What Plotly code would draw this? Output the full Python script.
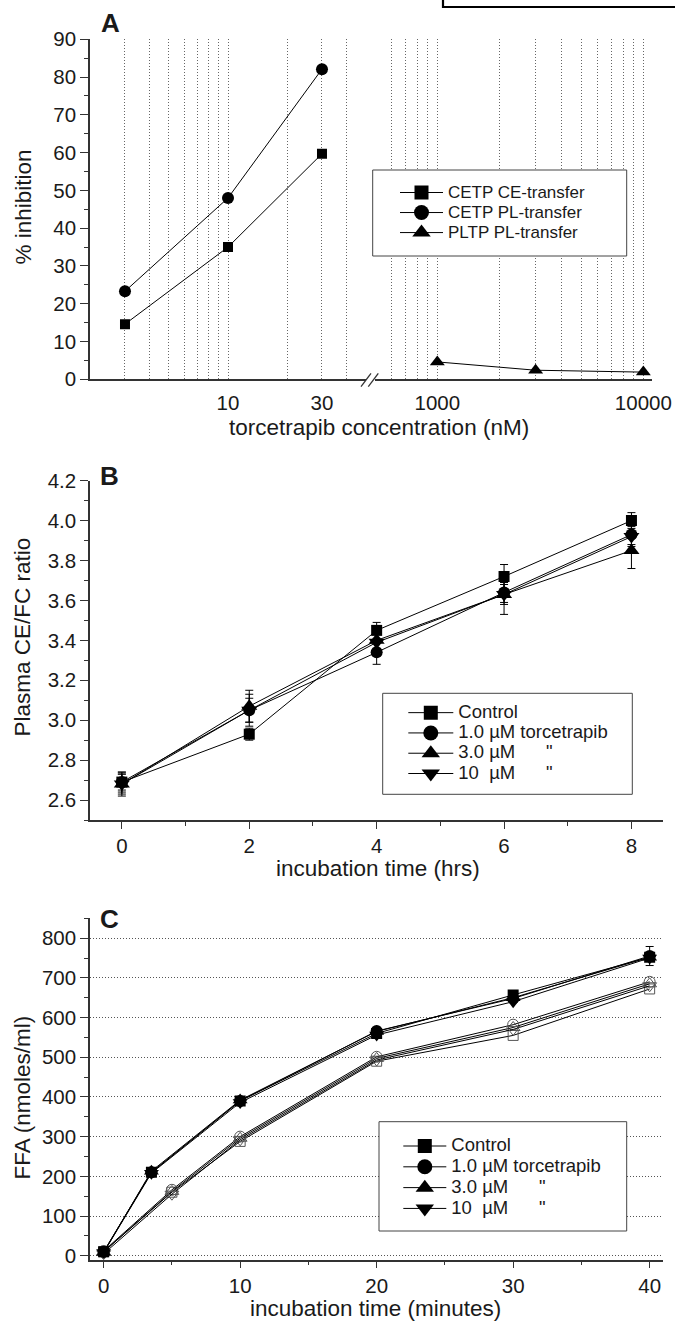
import plotly.graph_objects as go

W, H = 675, 1322


def px(x):
    return x / W


def py(y):
    return 1 - y / H


TXT = '#1a1a1a'
AX = '#333333'
GRID = '#555555'
FONT = 'Liberation Sans, Arial, Helvetica, sans-serif'

# ---- panel A: % inhibition vs torcetrapib concentration (nM)
conc_cetp = [3, 10, 30]
cetp_ce = [14.6, 35.0, 59.7]
cetp_pl = [23.3, 48.0, 82.1]
conc_pltp = [1000, 3000, 10000]
pltp_pl = [4.6, 2.4, 1.9]
a_names = ['CETP CE-transfer', 'CETP PL-transfer', 'PLTP PL-transfer']
a_grid_left = [3, 4, 5, 6, 7, 8, 9, 10, 20, 30, 40]
a_text_left = ['', '', '', '', '', '', '', '10', '', '30', '']
a_grid_right = [600, 700, 800, 900, 1000, 2000, 3000, 4000, 5000, 6000, 7000, 8000, 9000, 10000]
a_text_right = ['', '', '', '', '1000', '', '', '', '', '', '', '', '', '10000']
a_yticks = [0, 10, 20, 30, 40, 50, 60, 70, 80, 90]

# ---- panel B: plasma CE/FC ratio vs incubation time (hrs)
b_time = [0, 2, 4, 6, 8]
b_control = [2.69, 2.93, 3.45, 3.72, 4.00]
b_1um = [2.69, 3.05, 3.34, 3.64, 3.93]
b_3um = [2.68, 3.07, 3.40, 3.63, 3.85]
b_10um = [2.68, 3.05, 3.39, 3.63, 3.92]
b_control_err = [0.04, 0.03, 0.04, 0.06, 0.04]
b_1um_err = [0.05, 0.06, 0.06, 0.05, 0.05]
b_3um_err = [0.06, 0.08, 0.04, 0.05, 0.09]
b_10um_err = [0.05, 0.08, 0.04, 0.10, 0.05]
b_xticks = [0, 2, 4, 6, 8]
b_yticks = [2.6, 2.8, 3.0, 3.2, 3.4, 3.6, 3.8, 4.0, 4.2]
b_ytext = ['2.6', '2.8', '3.0', '3.2', '3.4', '3.6', '3.8', '4.0', '4.2']
b_grid = [2.6, 2.7, 2.8, 2.9, 3.0, 3.1, 3.2, 3.3, 3.4, 3.5, 3.6, 3.7, 3.8, 3.9, 4.0, 4.1]

# ---- panel C: FFA (nmoles/ml) vs incubation time (minutes)
c_time_a = [0, 3.5, 10, 20, 30, 40]
c_control_a = [10, 210, 390, 560, 657, 752]
c_1um_a = [10, 210, 390, 566, 648, 755]
c_3um_a = [8, 213, 392, 565, 650, 752]
c_10um_a = [8, 208, 386, 556, 640, 750]
c_control_a_err = [3, 6, 8, 8, 10, 24]
c_time_b = [0, 5, 10, 20, 30, 40]
c_control_b = [10, 160, 288, 490, 555, 672]
c_1um_b = [12, 166, 300, 501, 582, 690]
c_3um_b = [10, 162, 296, 497, 575, 685]
c_10um_b = [5, 155, 292, 493, 570, 680]
c_xticks = [0, 10, 20, 30, 40]
c_yticks = [0, 100, 200, 300, 400, 500, 600, 700, 800]

treat_names = ['Control', '1.0 \u00b5M torcetrapib',
               '3.0 \u00b5M\u00a0\u00a0\u00a0\u00a0\u00a0\u00a0"',
               '10\u00a0\u00a0\u00b5M\u00a0\u00a0\u00a0\u00a0\u00a0\u00a0"']
symbols = ['square', 'circle', 'triangle-up', 'triangle-down']
sizes = [11, 12, 14, 14]
leg_sizes = [14, 15, 16, 16]

fig = go.Figure()


def add_series(x, y, xa, ya, sym, size, err=None, color='black', open_=False):
    m = dict(symbol=sym + ('-open' if open_ else ''), size=size, color=color,
             line=dict(width=1 if open_ else 0, color=color))
    kw = {}
    if err is not None:
        kw['error_y'] = dict(type='data', array=err, color='black', thickness=1, width=4)
    fig.add_trace(go.Scatter(x=x, y=y, xaxis=xa, yaxis=ya, mode='lines+markers',
                             line=dict(color='black', width=1), marker=m,
                             showlegend=False, hoverinfo='skip', **kw))


def add_legend_entry(name, sym, size, xa, ya, legend, fs):
    fig.add_trace(go.Scatter(x=[None], y=[None], xaxis=xa, yaxis=ya, mode='lines+markers',
                             name='<span style="font-size:%spx">%s</span>' % (fs, name),
                             line=dict(color='black', width=1),
                             marker=dict(symbol=sym, size=size, color='black'),
                             legend=legend))


# panel A
add_series(conc_cetp, cetp_ce, 'x', 'y', 'square', 10)
add_series(conc_cetp, cetp_pl, 'x', 'y', 'circle', 12)
add_series(conc_pltp, pltp_pl, 'x2', 'y', 'triangle-up', 13)
for n, s, sz in zip(a_names, ['square', 'circle', 'triangle-up'], [14, 15, 16]):
    add_legend_entry(n, s, sz, 'x', 'y', 'legend', 17)

# panel B
for ys, es, s, sz in zip([b_control, b_1um, b_3um, b_10um],
                         [b_control_err, b_1um_err, b_3um_err, b_10um_err], symbols, sizes):
    add_series(b_time, ys, 'x3', 'y3', s, sz, err=es)
for n, s, sz in zip(treat_names, symbols, leg_sizes):
    add_legend_entry(n, s, sz, 'x3', 'y3', 'legend2', 18.5)

# panel C (open markers = second set, filled = first set)
for ys, s, sz in zip([c_control_b, c_1um_b, c_3um_b, c_10um_b], symbols, [10, 11, 12, 12]):
    add_series(c_time_b, ys, 'x5', 'y5', s, sz, color='#555555', open_=True)
for i, (ys, s, sz) in enumerate(zip([c_control_a, c_1um_a, c_3um_a, c_10um_a], symbols, [11, 12, 13, 13])):
    add_series(c_time_a, ys, 'x5', 'y5', s, sz, err=c_control_a_err if i == 1 else None)
for n, s, sz in zip(treat_names, symbols, leg_sizes):
    add_legend_entry(n, s, sz, 'x5', 'y5', 'legend3', 18.5)

tickfont = dict(family=FONT, size=20.5, color=TXT)
base_ax = dict(showline=True, linecolor=AX, linewidth=1.5, zeroline=False, tickfont=tickfont,
               tickcolor=AX, tickwidth=1.2, automargin=False, fixedrange=True)
grid = dict(showgrid=True, gridcolor=GRID, gridwidth=1, griddash='1px,2px')
grid_a = dict(showgrid=True, gridcolor='#666666', gridwidth=1, griddash='1px,2px')
minor_y = dict(ticks='outside', ticklen=4, tickcolor=AX, tickwidth=1.2, showgrid=False)

fig.update_layout(
    width=W, height=H, margin=dict(l=0, r=0, t=0, b=0),
    paper_bgcolor='white', plot_bgcolor='rgba(0,0,0,0)',
    font=dict(family=FONT, size=20, color=TXT),
    xaxis=dict(base_ax, **grid_a, domain=[px(90), px(366)], anchor='y', type='log',
               range=[0.2995, 1.7005], tickmode='array', tickvals=a_grid_left,
               ticktext=a_text_left, ticks='outside', ticklen=4,
               tickcolor='rgba(0,0,0,0)'),
    xaxis2=dict(base_ax, **grid_a, domain=[px(375), px(652)], anchor='y', type='log',
                range=[2.6976, 4.042], tickmode='array', tickvals=a_grid_right,
                ticktext=a_text_right, ticks='outside', ticklen=4,
                tickcolor='rgba(0,0,0,0)'),
    yaxis=dict(base_ax, domain=[py(379.3), py(39.3)], anchor='x', range=[0, 90],
               tickmode='array', tickvals=a_yticks, ticks='outside', ticklen=8,
               showgrid=False, minor=dict(minor_y, dtick=5)),
    xaxis3=dict(base_ax, domain=[px(90), px(663.3)], anchor='y3', range=[-0.5, 8.5],
                tickmode='array', tickvals=b_xticks, ticks='outside', ticklen=7,
                showgrid=False, minor=dict(minor_y, dtick=1, tick0=0)),
    yaxis3=dict(base_ax, domain=[py(820), py(480.7)], anchor='x3', range=[2.5, 4.2],
                tickmode='array', tickvals=b_yticks, ticktext=b_ytext, ticks='outside',
                ticklen=8, showgrid=False, minor=dict(minor_y, dtick=0.1, tick0=0)),
    yaxis4=dict(overlaying='y3', anchor='x3', range=[2.5, 4.2], tickmode='array',
                tickvals=b_grid, showticklabels=False, ticks='', showline=False,
                zeroline=False, fixedrange=True, **grid),
    xaxis5=dict(base_ax, domain=[px(90), px(663.3)], anchor='y5', range=[-1, 41],
                tickmode='array', tickvals=c_xticks, ticks='outside', ticklen=7,
                showgrid=False, minor=dict(minor_y, dtick=5, tick0=0)),
    yaxis5=dict(base_ax, **grid, domain=[py(1259.7), py(918.3)], anchor='x5',
                range=[-10, 850], tickmode='array', tickvals=c_yticks, ticks='outside',
                ticklen=8, minor=dict(minor_y, dtick=50, tick0=0)),
    legend=dict(x=px(395), y=py(177.5), xanchor='left', yanchor='top',
                bgcolor='rgba(0,0,0,0)', borderwidth=0, font=dict(size=13.1, color=TXT),
                itemwidth=43, tracegroupgap=0),
    legend2=dict(x=px(403.3), y=py(697.5), xanchor='left', yanchor='top',
                 bgcolor='rgba(0,0,0,0)', borderwidth=0, font=dict(size=13.3, color=TXT),
                 itemwidth=45, tracegroupgap=0),
    legend3=dict(x=px(398.3), y=py(1130.6), xanchor='left', yanchor='top',
                 bgcolor='rgba(0,0,0,0)', borderwidth=0, font=dict(size=13.7, color=TXT),
                 itemwidth=43, tracegroupgap=0),
)

shapes = []
# legend frames
for x0, x1, y0, y1 in [(372.7, 626.7, 170, 256), (382.7, 632.3, 693.3, 794.3),
                       (379, 626.7, 1121.7, 1231)]:
    shapes.append(dict(type='rect', xref='paper', yref='paper', x0=px(x0), x1=px(x1),
                       y0=py(y1), y1=py(y0), line=dict(color='#444444', width=1),
                       fillcolor='white', layer='above'))
# axis break marks on panel A
for x0 in (361, 368.3):
    shapes.append(dict(type='line', xref='paper', yref='paper', x0=px(x0), x1=px(x0 + 10),
                       y0=py(386.7), y1=py(373.3), line=dict(color=AX, width=1.3)))
# frame fragment at top right
shapes.append(dict(type='rect', xref='paper', yref='paper', x0=px(443), x1=px(690),
                   y0=py(7), y1=py(-20), line=dict(color='black', width=2.2),
                   fillcolor='rgba(0,0,0,0)'))
fig.update_layout(shapes=shapes)

ann = []
for letter, x, y in [('A', 110, 23), ('B', 109, 476.5), ('C', 109, 919)]:
    ann.append(dict(text='<b>%s</b>' % letter, x=px(x), y=py(y), xref='paper', yref='paper',
                    showarrow=False, xanchor='center', yanchor='middle',
                    font=dict(family=FONT, size=26, color=TXT)))
for text, x, y, angle in [('% inhibition', 23, 207.5, -90),
                          ('Plasma CE/FC ratio', 22, 637.5, -90),
                          ('FFA (nmoles/ml)', 22, 1097.5, -90),
                          ('torcetrapib concentration (nM)', 379, 427, 0),
                          ('incubation time (hrs)', 377.5, 868, 0),
                          ('incubation time (minutes)', 375, 1308, 0)]:
    ann.append(dict(text=text, x=px(x), y=py(y), xref='paper', yref='paper',
                    showarrow=False, xanchor='center', yanchor='middle', textangle=angle,
                    font=dict(family=FONT, size=22.5, color=TXT)))
fig.update_layout(annotations=ann)

fig.write_html("out.html", config={'displayModeBar': False},
               post_script="document.body.style.margin='0';document.body.style.padding='0';")
